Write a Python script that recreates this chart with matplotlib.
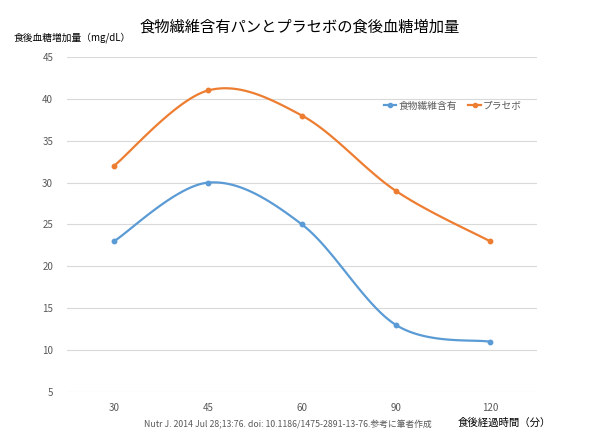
import numpy as np
import matplotlib
matplotlib.use("Agg")
import matplotlib.pyplot as plt
from matplotlib.lines import Line2D

plt.rcParams['font.family'] = ['Noto Sans CJK JP', 'DejaVu Sans']

categories = ["30", "45", "60", "90", "120"]
fiber = [23, 30, 25, 13, 11]
placebo = [32, 41, 38, 29, 23]
series_names = ["食物繊維含有", "プラセボ"]
colors = ["#5B9BD5", "#ED7D31"]
yticks = [5, 10, 15, 20, 25, 30, 35, 40, 45]

title = "食物繊維含有パンとプラセボの食後血糖増加量"
ylabel = "食後血糖増加量（mg/dL）"
xlabel = "食後経過時間（分）"
note = "Nutr J. 2014 Jul 28;13:76. doi: 10.1186/1475-2891-13-76.参考に筆者作成"


def smooth(x, y, n=30, t=0.5):
    x = np.asarray(x, float)
    y = np.asarray(y, float)
    P = np.column_stack([x, y])
    P = np.vstack([P[0], P, P[-1]])
    out = []
    for i in range(1, len(P) - 2):
        p0, p1, p2, p3 = P[i - 1], P[i], P[i + 1], P[i + 2]
        m1 = (p2 - p0) * t
        m2 = (p3 - p1) * t
        s = np.linspace(0, 1, n)[:, None]
        h00 = 2 * s**3 - 3 * s**2 + 1
        h10 = s**3 - 2 * s**2 + s
        h01 = -2 * s**3 + 3 * s**2
        h11 = s**3 - s**2
        seg = h00 * p1 + h10 * m1 + h01 * p2 + h11 * m2
        out.append(seg if i == 1 else seg[1:])
    out = np.vstack(out)
    return out[:, 0], out[:, 1]


fig = plt.figure(figsize=(6, 4.42), dpi=100)
ax = fig.add_axes([0.1117, 0.1131, 0.7833, 0.758])
xs = np.arange(len(categories))
for vals, c in zip([fiber, placebo], colors):
    sx, sy = smooth(xs, vals)
    ax.plot(sx, sy, color=c, lw=1.6, solid_capstyle='round', zorder=3)
    ax.plot(xs, vals, 'o', color=c, ms=3.2, zorder=4)

ax.set_xlim(-0.5, len(categories) - 0.5)
ax.set_ylim(5, 45)
ax.set_yticks(yticks)
ax.set_xticks(xs)
ax.set_xticklabels(categories)
ax.grid(axis='y', color='#D9D9D9', lw=0.8)
ax.set_axisbelow(True)
for s in ax.spines.values():
    s.set_visible(False)
ax.tick_params(length=0, labelsize=7, colors='#595959', pad=8)
ax.tick_params(axis='y', pad=10)

handles = [Line2D([0], [0], color=c, lw=1.6, marker='o', ms=3) for c in colors]
ax.legend(handles, series_names, loc='center left', bbox_to_anchor=(0.655, 0.855),
          ncol=2, frameon=False, fontsize=7, handlelength=1.3, handletextpad=0.2,
          columnspacing=1.2, labelcolor='#595959')

fig.text(0.5, 0.938, title, ha='center', va='center', fontsize=11)
fig.text(0.022, 0.916, ylabel, ha='left', va='center', fontsize=7)
fig.text(0.763, 0.044, xlabel, ha='left', va='center', fontsize=7.5)
fig.text(0.24, 0.04, note, ha='left', va='center', fontsize=6.3, color='#595959')

fig.savefig("out.png", dpi=100)
